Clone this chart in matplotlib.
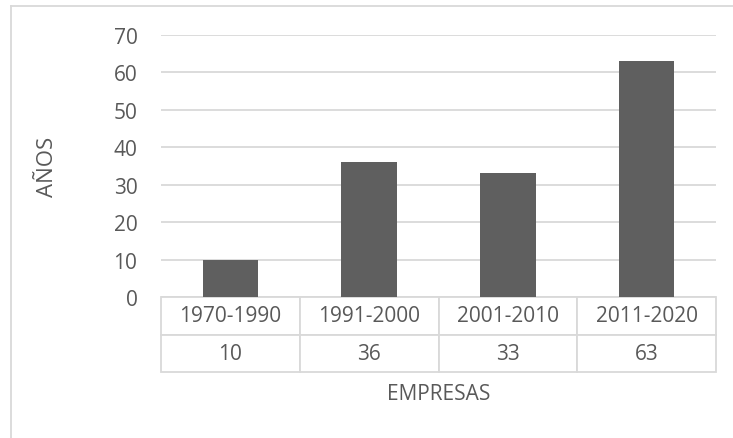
import matplotlib.pyplot as plt
from matplotlib.lines import Line2D

# Data
periods = ["1970-1990", "1991-2000", "2001-2010", "2011-2020"]
values = [10, 36, 33, 63]
y_ticks = [0, 10, 20, 30, 40, 50, 60, 70]

text_color = "#595959"
grid_color = "#D9D9D9"
bar_color = "#5F5F5F"
fs = 15

plt.rcParams["font.family"] = ["Open Sans", "DejaVu Sans"]

W, H = 733, 439
fig = plt.figure(figsize=(W / 100, H / 100), dpi=100)

# Plot area in pixel coords
left, right, top, bottom = 161, 716, 36, 298
ax = fig.add_axes([left / W, 1 - bottom / H, (right - left) / W, (bottom - top) / H])

x = range(len(periods))
ax.bar(x, values, width=0.4, color=bar_color, zorder=3)

ax.set_xlim(-0.5, len(periods) - 0.5)
ax.set_ylim(0, 70)
ax.set_yticks(y_ticks)
ax.set_xticks([])
ax.grid(axis="y", color=grid_color, linewidth=1.3, zorder=0)
for s in ax.spines.values():
    s.set_visible(False)
ax.tick_params(axis="y", length=0, pad=17, labelsize=fs, labelcolor=text_color)

ax.set_ylabel("AÑOS", fontsize=fs + 1, color=text_color)
ax.yaxis.set_label_coords((58 - left) / (right - left), 0.5)

# Data table under the bars
tbl_h = (373 - bottom) / (bottom - top)
table = ax.table(
    cellText=[[str(v) for v in values]],
    colLabels=periods,
    cellLoc="center",
    bbox=[0, -tbl_h, 1, tbl_h],
)
table.auto_set_font_size(False)
for cell in table.get_celld().values():
    cell.set_edgecolor(grid_color)
    cell.set_linewidth(1.3)
    cell.get_text().set_fontsize(fs)
    cell.get_text().set_color(text_color)

ax.text(0.5, (bottom - 395) / (bottom - top), "EMPRESAS", transform=ax.transAxes,
        ha="center", va="center", fontsize=fs, color=text_color)

# Chart border (top and left only visible)
fig.add_artist(Line2D([11 / W, 11 / W], [0, 1 - 7 / H], color=grid_color, linewidth=1.3))
fig.add_artist(Line2D([11 / W, 1], [1 - 7 / H, 1 - 7 / H], color=grid_color, linewidth=1.3))

fig.savefig("out.png", dpi=100)
